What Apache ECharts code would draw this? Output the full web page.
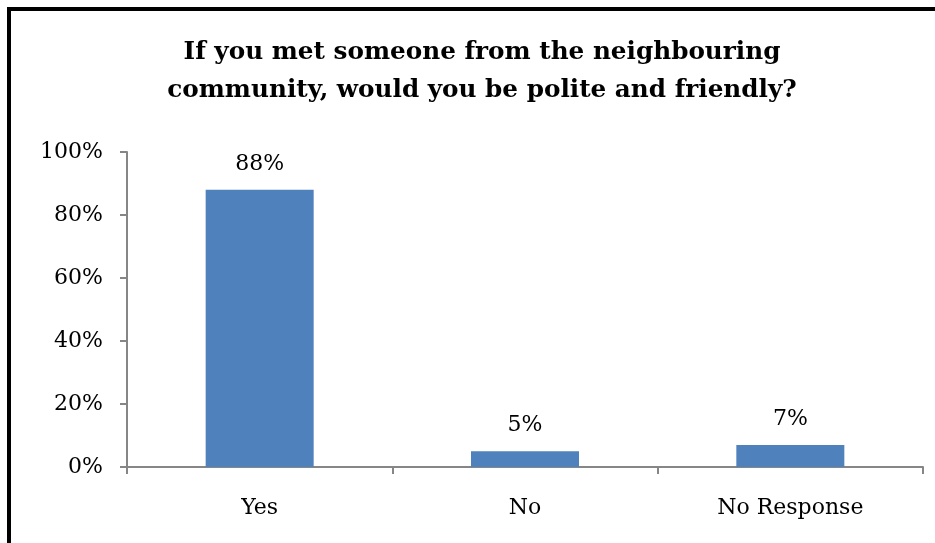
<!DOCTYPE html>
<html>
<head>
<meta charset="utf-8">
<script src="https://cdn.jsdelivr.net/npm/echarts@6/dist/echarts.min.js"></script>
<style>
  html, body { margin: 0; padding: 0; background: #ffffff; overflow: hidden; }
  #frame {
    position: absolute; left: 7px; top: 7px; width: 960px; height: 600px;
    border: 4px solid #000000; box-sizing: border-box;
  }
  #chart { position: absolute; left: 0; top: 0; width: 935px; height: 543px; }
</style>
</head>
<body>
<div id="frame"></div>
<div id="chart"></div>
<script>
// Survey answers and their shares (percent)
const categories = ['Yes', 'No', 'No Response'];
const shares = [88, 5, 7];
const yTicks = [0, 20, 40, 60, 80, 100];

const titleText = 'If you met someone from the neighbouring\ncommunity, would you be polite and friendly?';
const serif = '"DejaVu Serif", "Liberation Serif", serif';

const chart = echarts.init(document.getElementById('chart'), null, { renderer: 'canvas' });
chart.setOption({
  animation: false,
  title: {
    text: titleText,
    left: 477,
    top: 29,
    textAlign: 'center',
    textStyle: {
      fontFamily: serif, fontWeight: 'bold', fontSize: 24.7, lineHeight: 38, color: '#000000'
    }
  },
  grid: { left: 127, top: 152, right: 12, bottom: 76, containLabel: false },
  xAxis: {
    type: 'category',
    data: categories,
    axisLine: { lineStyle: { color: '#868686', width: 2 } },
    axisTick: { show: true, length: 7, lineStyle: { color: '#868686', width: 2 } },
    axisLabel: { fontFamily: serif, fontSize: 22, color: '#000000', margin: 30 }
  },
  yAxis: {
    type: 'value',
    min: yTicks[0],
    max: yTicks[yTicks.length - 1],
    interval: 20,
    axisLine: { show: true, lineStyle: { color: '#868686', width: 2 } },
    axisTick: { show: true, length: 7, lineStyle: { color: '#868686', width: 2 } },
    splitLine: { show: false },
    axisLabel: { fontFamily: serif, fontSize: 22, color: '#000000', margin: 24, formatter: '{value}%' }
  },
  series: [{
    type: 'bar',
    data: shares,
    barWidth: 108,
    itemStyle: { color: '#4F81BD' },
    label: {
      show: true, position: 'top', distance: 15,
      fontFamily: serif, fontSize: 22, color: '#000000', formatter: '{c}%'
    }
  }]
});
</script>
</body>
</html>
